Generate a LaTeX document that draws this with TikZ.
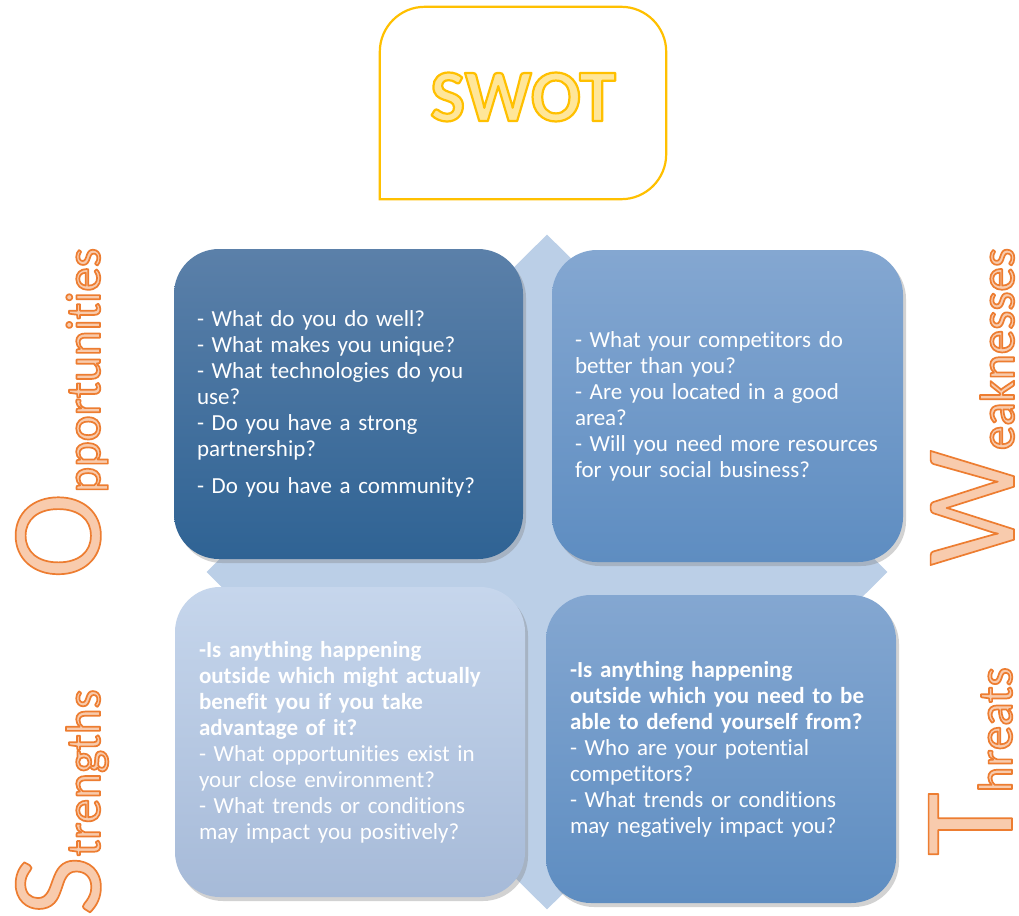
\documentclass[tikz,border=0pt]{standalone}
\usepackage{fontspec}
\setmainfont{Carlito}[Ligatures={NoCommon,TeX}]
\usetikzlibrary{shapes.geometric,shadows}
\definecolor{diamondfill}{HTML}{BBCFE7}
\definecolor{tlTop}{HTML}{5B80A9}
\definecolor{tlBot}{HTML}{2F6394}
\definecolor{trTop}{HTML}{84A7D1}
\definecolor{trBot}{HTML}{5E8DC1}
\definecolor{blTop}{HTML}{C6D6EC}
\definecolor{blBot}{HTML}{A6BAD8}
\definecolor{orFill}{HTML}{F8CBAD}
\definecolor{orLine}{HTML}{ED7D31}
\definecolor{yFill}{HTML}{FFE699}
\definecolor{yLine}{HTML}{FFC000}
\newcommand\outlon[2]{\special{pdf:literal direct #1 RG #2 w 1 j 2 Tr}}
\newcommand\outloff{\special{pdf:literal direct 0 Tr}}
\newcommand\orangeon{\outlon{0.929 0.490 0.192}{1.7}}
\newcommand\quadfont{\fontsize{23}{26}\selectfont\hyphenpenalty=10000\relax\exhyphenpenalty=10000\relax}
\tikzset{
  quad/.style={rounded corners=45pt, inner xsep=23pt, inner ysep=0pt,
    text width=#1, align=left, text=white, font=\quadfont,
    drop shadow={shadow xshift=3pt, shadow yshift=-4pt, opacity=0.35}},
  sidelab/.style={rotate=90, inner sep=0pt, text depth=0pt, text=orFill, anchor=base west},
}
\begin{document}
\begin{tikzpicture}[x=1pt,y=-1pt]
\useasboundingbox[fill=white] (0,0) rectangle (1019,915);

% central diamond
\node[diamond, aspect=1, fill=diamondfill, inner sep=0pt,
      minimum width=681pt, minimum height=675pt] (dia) at (547,572) {};

% SWOT title frame
\node[minimum width=286pt, minimum height=192pt, inner sep=0pt] (swotbox) at (523,103) {};
\draw[yLine, line width=2.2pt] (swotbox.south west) [rounded corners=45pt]
  -- (swotbox.north west) -- (swotbox.north east) -- (swotbox.south east)
  [sharp corners] -- cycle;
\node[text=yFill, inner sep=0pt, font=\bfseries\fontsize{74}{74}\selectfont]
  (swot) at ([yshift=6pt]swotbox.center) {\outlon{1 0.753 0}{2.2}SWOT\outloff};

% quadrant boxes
\node[quad=303pt, minimum width=349pt, minimum height=310pt,
      top color=tlTop, bottom color=tlBot] (s) at (348.5,404)
{- What do you do well?\\
- What makes you unique?\\
- What technologies do you\\
use?\\
- Do you have a strong\\
partnership?\\[11pt]
- Do you have a community?};

\node[quad=305pt, minimum width=351pt, minimum height=312pt,
      top color=trTop, bottom color=trBot] (w) at (727.5,406)
{- What your competitors do\\
better than you?\\
- Are you located in a good\\
area?\\
- Will you need more resources\\
for your social business?};

\node[quad=302pt, minimum width=350pt, minimum height=310pt, inner xsep=24pt,
      top color=blTop, bottom color=blBot] (o) at (350,742)
{\textbf{-Is anything happening}\\
\textbf{outside which might actually}\\
\textbf{benefit you if you take}\\
\textbf{advantage of it?}\\
- What opportunities exist in\\
your close environment?\\
- What trends or conditions\\
may impact you positively?};

\node[quad=302pt, minimum width=350pt, minimum height=308pt, inner xsep=24pt,
      top color=trTop, bottom color=trBot] (t) at (721,749)
{\textbf{-Is anything happening}\\
\textbf{outside which you need to be}\\
\textbf{able to defend yourself from?}\\
- Who are your potential\\
competitors?\\
- What trends or conditions\\
may negatively impact you?};

% side labels
\node[sidelab] (lopp) at (100,579)
  {\orangeon{\fontsize{130}{130}\selectfont O}{\fontsize{49}{49}\selectfont pportunities}\outloff};
\node[sidelab] (lweak) at (1014,566)
  {\orangeon{\fontsize{130}{130}\selectfont W}{\fontsize{49}{49}\selectfont eaknesses}\outloff};
\node[sidelab] (lstr) at (100,916)
  {\orangeon{\fontsize{130}{130}\selectfont S}{\fontsize{49}{49}\selectfont trengths}\outloff};
\node[sidelab] (lthr) at (1012,856)
  {\orangeon{\fontsize{130}{130}\selectfont T}{\fontsize{49}{49}\selectfont hreats}\outloff};
\end{tikzpicture}
\end{document}
